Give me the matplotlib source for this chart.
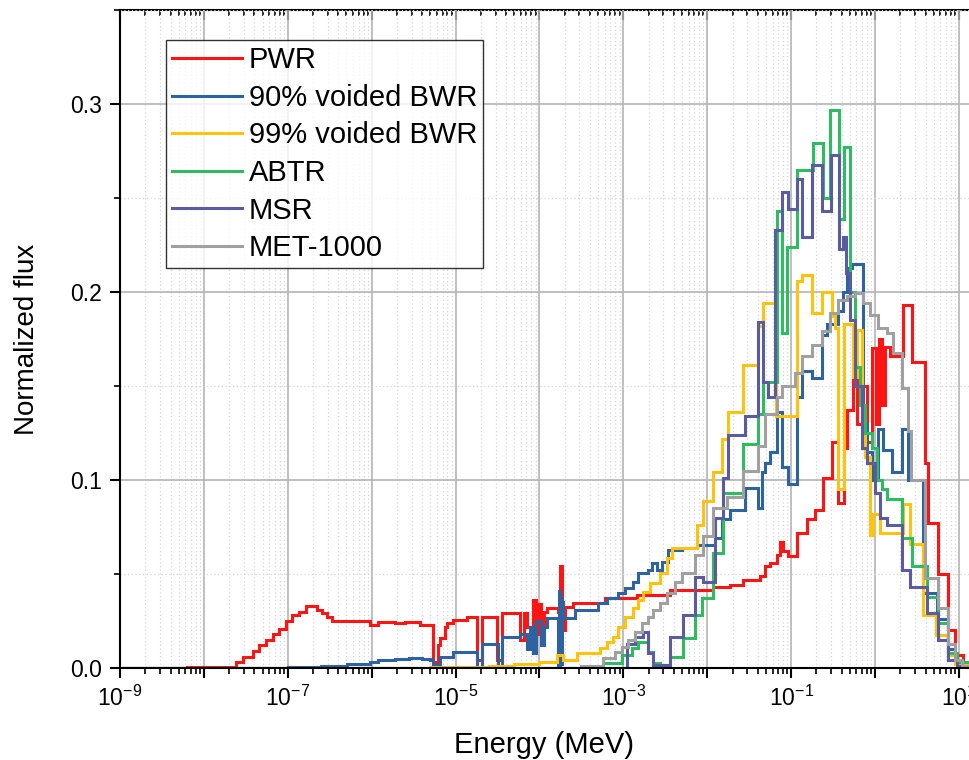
import numpy as np
import matplotlib

matplotlib.use("Agg")
import matplotlib.pyplot as plt
from matplotlib.ticker import FixedLocator, FuncFormatter, MultipleLocator, NullFormatter

# ---------------------------
# Data (log10 of bin lower edge in MeV, normalized flux)
# ---------------------------
LOG_E_MAX = 1.12  # upper edge of the last bin

pwr_logE = [-9.00, -8.20, -7.62, -7.53, -7.41, -7.34, -7.26, -7.18, -7.10, -7.02,
            -6.95, -6.87, -6.78, -6.65, -6.59, -6.53, -6.47, -6.02, -5.92, -5.72,
            -5.60, -5.42, -5.27, -5.21, -5.19, -5.13, -5.10, -5.03, -4.86, -4.75,
            -4.69, -4.51, -4.45, -4.23, -4.18, -4.15, -4.11, -4.08, -4.04, -4.01,
            -3.98, -3.95, -3.91, -3.78, -3.76, -3.73, -3.70, -3.60, -3.22, -2.84,
            -2.44, -1.93, -1.73, -1.57, -1.37, -1.31, -1.25, -1.17, -1.13, -1.10,
            -1.04, -0.93, -0.81, -0.72, -0.62, -0.51, -0.44, -0.37, -0.33, -0.26,
            -0.22, -0.14, -0.09, -0.04, 0.01, 0.05, 0.08, 0.12, 0.18, 0.33,
            0.44, 0.59, 0.63, 0.75, 0.87, 0.95, 1.05]
pwr_flux = [0.0, 0.0005, 0.003, 0.006, 0.009, 0.012, 0.015, 0.018, 0.021, 0.025,
            0.028, 0.030, 0.033, 0.031, 0.029, 0.027, 0.025, 0.023, 0.0245, 0.024,
            0.0245, 0.023, 0.003, 0.012, 0.016, 0.022, 0.024, 0.0255, 0.027, 0.004,
            0.027, 0.004, 0.029, 0.015, 0.029, 0.022, 0.020, 0.036, 0.018, 0.034,
            0.020, 0.030, 0.032, 0.030, 0.054, 0.020, 0.0325, 0.0345, 0.037, 0.039,
            0.0415, 0.043, 0.044, 0.047, 0.049, 0.054, 0.056, 0.060, 0.067, 0.062,
            0.0596, 0.072, 0.079, 0.084, 0.101, 0.120, 0.088, 0.117, 0.137, 0.160,
            0.130, 0.150, 0.120, 0.170, 0.130, 0.175, 0.140, 0.171, 0.166, 0.193,
            0.163, 0.109, 0.077, 0.050, 0.020, 0.007, 0.002]

bwr90_logE = [-9.00, -7.00, -6.60, -6.30, -6.02, -5.92, -5.72, -5.55, -5.40, -5.31,
              -5.27, -5.19, -5.03, -4.75, -4.69, -4.50, -4.45, -4.23, -4.15, -4.11,
              -4.08, -4.04, -3.98, -3.95, -3.91, -3.78, -3.77, -3.76, -3.75, -3.74,
              -3.73, -3.72, -3.58, -3.30, -3.20, -3.06, -2.98, -2.89, -2.83, -2.71,
              -2.66, -2.60, -2.54, -2.47, -2.30, -2.12, -1.91, -1.82, -1.73, -1.55,
              -1.40, -1.35, -1.31, -1.25, -1.17, -1.11, -1.04, -0.93, -0.87, -0.75,
              -0.63, -0.57, -0.44, -0.38, -0.34, -0.28, -0.14, -0.10, -0.04, 0.03,
              0.09, 0.20, 0.32, 0.39, 0.57, 0.74, 0.87, 0.95, 1.04]
bwr90_flux = [0.0, 0.0003, 0.001, 0.002, 0.003, 0.004, 0.005, 0.0055, 0.005, 0.0045,
              0.0017, 0.006, 0.0085, 0.0, 0.013, 0.001, 0.0166, 0.018, 0.010, 0.022,
              0.008, 0.025, 0.012, 0.022, 0.0265, 0.0, 0.041, 0.0, 0.038, 0.002,
              0.035, 0.0265, 0.031, 0.0345, 0.037, 0.040, 0.0425, 0.046, 0.0505, 0.052,
              0.0556, 0.052, 0.0565, 0.0627, 0.064, 0.0656, 0.069, 0.079, 0.084, 0.096,
              0.085, 0.104, 0.109, 0.115, 0.136, 0.107, 0.098, 0.144, 0.158, 0.154,
              0.177, 0.183, 0.190, 0.200, 0.213, 0.215, 0.130, 0.115, 0.100, 0.127,
              0.116, 0.104, 0.127, 0.100, 0.040, 0.026, 0.010, 0.003, 0.001]

bwr99_logE = [-9.00, -5.30, -4.60, -4.30, -4.00, -3.79, -3.72, -3.55, -3.28, -3.20,
              -3.12, -3.06, -2.98, -2.89, -2.83, -2.77, -2.68, -2.56, -2.48, -2.42,
              -2.12, -2.05, -1.93, -1.82, -1.75, -1.57, -1.40, -1.34, -1.18, -0.93,
              -0.87, -0.75, -0.63, -0.51, -0.48, -0.44, -0.37, -0.26, -0.22, -0.16,
              -0.12, -0.06, -0.03, 0.06, 0.33, 0.42, 0.57, 0.73, 0.87, 0.95]
bwr99_flux = [0.0, 0.0005, 0.001, 0.002, 0.003, 0.007, 0.004, 0.008, 0.0106, 0.0139,
              0.0165, 0.022, 0.027, 0.032, 0.036, 0.0405, 0.045, 0.0505, 0.0585, 0.064,
              0.076, 0.089, 0.104, 0.122, 0.136, 0.161, 0.182, 0.194, 0.134, 0.206,
              0.209, 0.189, 0.200, 0.187, 0.181, 0.095, 0.183, 0.155, 0.180, 0.140,
              0.112, 0.071, 0.082, 0.072, 0.087, 0.066, 0.028, 0.0176, 0.007, 0.002]

abtr_logE = [-9.00, -3.24, -3.02, -2.90, -2.83, -2.71, -2.65, -2.56, -2.44, -2.29,
             -2.15, -2.06, -1.93, -1.81, -1.57, -1.40, -1.34, -1.17, -1.11, -1.05,
             -0.93, -0.74, -0.62, -0.54, -0.43, -0.37, -0.30, -0.24, -0.18, -0.12,
             -0.04, 0.02, 0.08, 0.14, 0.32, 0.44, 0.62, 0.75, 0.87, 0.98]
abtr_flux = [0.0, 0.0027, 0.007, 0.0106, 0.0139, 0.0085, 0.0027, 0.0015, 0.006, 0.0158,
             0.028, 0.037, 0.061, 0.093, 0.119, 0.135, 0.152, 0.243, 0.178, 0.224,
             0.265, 0.279, 0.250, 0.297, 0.239, 0.277, 0.200, 0.160, 0.140, 0.125,
             0.117, 0.100, 0.095, 0.090, 0.069, 0.054, 0.038, 0.024, 0.008, 0.003]

msr_logE = [-9.00, -2.96, -2.86, -2.77, -2.71, -2.65, -2.44, -2.29, -2.15, -2.05,
            -1.91, -1.81, -1.75, -1.55, -1.40, -1.34, -1.28, -1.19, -1.11, -1.04,
            -0.93, -0.87, -0.75, -0.63, -0.53, -0.43, -0.38, -0.35, -0.30, -0.24,
            -0.16, -0.10, 0.00, 0.06, 0.14, 0.32, 0.42, 0.62, 0.75, 0.87, 0.98]
msr_flux = [0.0, 0.013, 0.0165, 0.019, 0.008, 0.0016, 0.0165, 0.028, 0.0485, 0.046,
            0.080, 0.101, 0.124, 0.134, 0.184, 0.152, 0.144, 0.233, 0.253, 0.244,
            0.260, 0.229, 0.2675, 0.243, 0.273, 0.223, 0.229, 0.210, 0.185, 0.150,
            0.117, 0.109, 0.093, 0.080, 0.076, 0.052, 0.043, 0.029, 0.015, 0.004, 0.001]

met_logE = [-9.00, -3.50, -3.24, -3.10, -3.02, -2.95, -2.86, -2.78, -2.71, -2.65,
            -2.56, -2.48, -2.38, -2.30, -2.15, -2.05, -1.93, -1.77, -1.57, -1.40,
            -1.31, -1.17, -1.11, -0.95, -0.87, -0.75, -0.63, -0.54, -0.44, -0.33,
            -0.24, -0.14, -0.06, 0.03, 0.14, 0.21, 0.32, 0.39, 0.43, 0.59,
            0.75, 0.87, 0.95, 1.04]
met_flux = [0.0, 0.001, 0.0053, 0.0085, 0.011, 0.0149, 0.019, 0.024, 0.027, 0.031,
            0.0345, 0.040, 0.046, 0.0505, 0.060, 0.070, 0.085, 0.091, 0.105, 0.118,
            0.135, 0.144, 0.150, 0.157, 0.166, 0.172, 0.179, 0.189, 0.196, 0.198,
            0.1995, 0.194, 0.188, 0.181, 0.178, 0.1675, 0.149, 0.126, 0.100, 0.048,
            0.032, 0.013, 0.004, 0.001]

SERIES = [
    ("PWR", pwr_logE, pwr_flux, "#ff1414"),
    ("90% voided BWR", bwr90_logE, bwr90_flux, "#2e63a2"),
    ("99% voided BWR", bwr99_logE, bwr99_flux, "#ffc20e"),
    ("ABTR", abtr_logE, abtr_flux, "#2fbb62"),
    ("MSR", msr_logE, msr_flux, "#5b5b9f"),
    ("MET-1000", met_logE, met_flux, "#a0a0a0"),
]

X_DECADES = list(range(-9, 2))
Y_MAX = 0.35
FONT = "Liberation Sans"


def _decade_label(val, pos):
    exp = int(round(np.log10(val)))
    if exp % 2 == 0:
        return ""
    return r"$\mathregular{10^{%d}}$" % exp


def main():
    plt.rcParams["font.family"] = [FONT, "DejaVu Sans"]
    plt.rcParams["mathtext.fontset"] = "custom"
    plt.rcParams["mathtext.rm"] = FONT

    fig = plt.figure(figsize=(9.69, 7.6), dpi=100)
    ax = fig.add_axes([120 / 969, 92 / 760, 849 / 969, 658 / 760])

    for name, logE, flux, color in SERIES:
        edges = 10.0 ** np.append(logE, LOG_E_MAX)
        ax.stairs(flux, edges, baseline=None, color=color, lw=2.2, label=name)

    ax.set_xscale("log")
    ax.set_xlim(1e-9, 10 ** LOG_E_MAX)
    ax.set_ylim(0, Y_MAX)

    # x ticks: every decade, labels on odd exponents only
    ax.xaxis.set_major_locator(FixedLocator([10.0 ** d for d in X_DECADES]))
    ax.xaxis.set_major_formatter(FuncFormatter(_decade_label))
    minors = [m * 10.0 ** d for d in X_DECADES for m in range(2, 10)]
    ax.xaxis.set_minor_locator(FixedLocator(minors))
    ax.xaxis.set_minor_formatter(NullFormatter())

    ax.yaxis.set_major_locator(MultipleLocator(0.1))
    ax.yaxis.set_minor_locator(MultipleLocator(0.05))
    ax.yaxis.set_major_formatter(FuncFormatter(lambda v, p: f"{v:.1f}"))

    ax.tick_params(which="major", direction="out", length=7, width=1.5,
                   labelsize=16.5, pad=6)
    ax.tick_params(which="minor", direction="out", length=4, width=1.2)

    # top axis with inward ticks, no labels
    top = ax.secondary_xaxis("top")
    top.xaxis.set_major_locator(FixedLocator([10.0 ** d for d in X_DECADES]))
    top.xaxis.set_minor_locator(FixedLocator(minors))
    top.xaxis.set_major_formatter(NullFormatter())
    top.xaxis.set_minor_formatter(NullFormatter())
    top.tick_params(which="major", direction="in", length=7, width=1.5)
    top.tick_params(which="minor", direction="in", length=4, width=1.2)
    top.spines["top"].set_linewidth(1.5)

    ax.grid(which="major", color="#b4b4b4", lw=1.2, ls="-")
    ax.grid(which="minor", color="#d6d6d6", lw=0.9, ls=(0, (1, 2)))
    ax.set_axisbelow(True)

    for side in ("left", "bottom"):
        ax.spines[side].set_linewidth(1.5)
    ax.spines["right"].set_visible(False)
    ax.spines["top"].set_visible(False)

    ax.set_xlabel("Energy (MeV)", fontsize=21, labelpad=14)
    ax.set_ylabel("Normalized flux", fontsize=20, labelpad=22)

    leg = ax.legend(loc="upper left", bbox_to_anchor=(0.054, 0.954),
                    borderaxespad=0, fontsize=21, frameon=True, fancybox=False,
                    edgecolor="black", handlelength=2.4, handletextpad=0.25,
                    labelspacing=0.33, borderpad=0.2)
    leg.get_frame().set_linewidth(1.0)

    fig.savefig("out.png", dpi=100)


if __name__ == "__main__":
    main()
